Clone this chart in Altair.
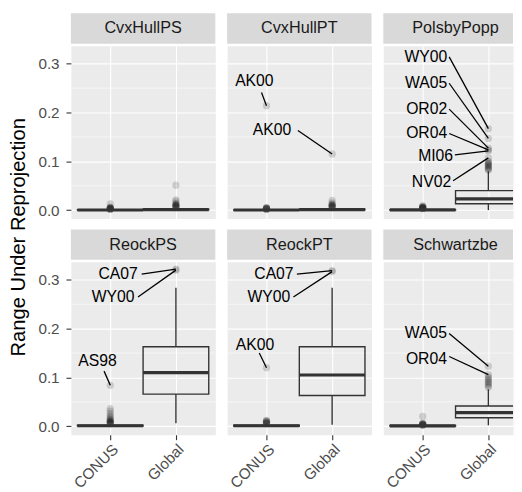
import altair as alt
import pandas as pd

FONT = "Liberation Sans"

panels = ["CvxHullPS", "CvxHullPT", "PolsbyPopp", "ReockPS", "ReockPT", "Schwartzbe"]
groups = ["CONUS", "Global"]
y_title = "Range Under Reprojection"
y_ticks = [0.0, 0.1, 0.2, 0.3]
y_minor = [0.05, 0.15, 0.25]

# box statistics, one entry per (panel, group)
box_panel = ["CvxHullPS", "CvxHullPS", "CvxHullPT", "CvxHullPT", "PolsbyPopp", "PolsbyPopp",
             "ReockPS", "ReockPS", "ReockPT", "ReockPT", "Schwartzbe", "Schwartzbe"]
box_group = ["CONUS", "Global"] * 6
box_lo = [0.0, 0.0, 0.0, 0.0, 0.0, 0.0, 0.0, 0.006, 0.0, 0.003, 0.0, 0.002]
box_q1 = [0.0, 0.0005, 0.0, 0.0005, 0.0, 0.013, 0.0005, 0.066, 0.0005, 0.063, 0.0003, 0.0175]
box_med = [0.0003, 0.001, 0.0002, 0.001, 0.0005, 0.023, 0.001, 0.110, 0.001, 0.105, 0.0008, 0.028]
box_q3 = [0.0008, 0.002, 0.0005, 0.002, 0.001, 0.040, 0.002, 0.163, 0.002, 0.163, 0.0015, 0.0416]
box_hi = [0.002, 0.004, 0.001, 0.004, 0.002, 0.080, 0.004, 0.284, 0.004, 0.284, 0.003, 0.076]

# outlying points per (panel, group)
out_values = {
    ("CvxHullPS", "CONUS"): [0.0015, 0.002, 0.0025, 0.003, 0.0035, 0.004, 0.0045, 0.005, 0.006, 0.013],
    ("CvxHullPS", "Global"): [0.005, 0.006, 0.007, 0.008, 0.009, 0.010, 0.011, 0.012, 0.014, 0.018, 0.021, 0.051],
    ("CvxHullPT", "CONUS"): [0.0015, 0.002, 0.0025, 0.003, 0.0035, 0.004, 0.0045, 0.005, 0.214],
    ("CvxHullPT", "Global"): [0.005, 0.006, 0.007, 0.008, 0.009, 0.010, 0.011, 0.012, 0.015, 0.020, 0.115],
    ("PolsbyPopp", "CONUS"): [0.003, 0.0035, 0.004, 0.0045, 0.005, 0.0055, 0.006, 0.0065, 0.007, 0.009],
    ("PolsbyPopp", "Global"): [0.082, 0.084, 0.086, 0.088, 0.090, 0.092, 0.094, 0.096, 0.098, 0.100,
                               0.107, 0.1215, 0.1236, 0.127, 0.147, 0.167],
    ("ReockPS", "CONUS"): [0.005, 0.006, 0.007, 0.008, 0.009, 0.010, 0.011, 0.012, 0.014, 0.016,
                           0.019, 0.022, 0.026, 0.031, 0.036, 0.084],
    ("ReockPS", "Global"): [0.320, 0.322],
    ("ReockPT", "CONUS"): [0.005, 0.006, 0.007, 0.008, 0.009, 0.010, 0.011, 0.012, 0.120],
    ("ReockPT", "Global"): [0.317, 0.319],
    ("Schwartzbe", "CONUS"): [0.002, 0.0025, 0.003, 0.0035, 0.004, 0.0045, 0.005, 0.0055, 0.006, 0.020],
    ("Schwartzbe", "Global"): [0.080, 0.083, 0.086, 0.089, 0.092, 0.095, 0.098, 0.101, 0.106, 0.123],
}

# repelled labels: text position, leader start, target point
lab_panel = ["CvxHullPT", "CvxHullPT",
             "PolsbyPopp", "PolsbyPopp", "PolsbyPopp", "PolsbyPopp", "PolsbyPopp", "PolsbyPopp",
             "ReockPS", "ReockPS", "ReockPS",
             "ReockPT", "ReockPT", "ReockPT",
             "Schwartzbe", "Schwartzbe"]
lab_text = ["AK00", "AK00",
            "WY00", "WA05", "OR02", "OR04", "MI06", "NV02",
            "CA07", "WY00", "AS98",
            "CA07", "WY00", "AK00",
            "WA05", "OR04"]
lab_group = ["CONUS", "Global",
             "Global", "Global", "Global", "Global", "Global", "Global",
             "Global", "Global", "CONUS",
             "Global", "Global", "CONUS",
             "Global", "Global"]
lab_value = [0.214, 0.115,
             0.167, 0.147, 0.127, 0.1236, 0.1215, 0.107,
             0.322, 0.320, 0.084,
             0.319, 0.317, 0.120,
             0.123, 0.106]
lab_tx = [0.815, 1.083,
          1.373, 1.373, 1.373, 1.373, 1.463, 1.433,
          1.418, 1.369, 0.804,
          1.413, 1.363, 0.824,
          1.369, 1.369]
lab_ty = [0.264, 0.1635,
          0.314, 0.260, 0.207, 0.157, 0.110, 0.057,
          0.312, 0.264, 0.133,
          0.312, 0.264, 0.167,
          0.190, 0.1386]
lab_align = ["center", "center",
             "right", "right", "right", "right", "right", "right",
             "right", "right", "center",
             "right", "right", "center",
             "right", "right"]
lab_sx = [0.924, 1.478,
          1.403, 1.403, 1.403, 1.403, 1.49, 1.463,
          1.478, 1.422, 0.905,
          1.463, 1.41, 0.89,
          1.403, 1.403]
lab_sy = [0.241, 0.163,
          0.314, 0.260, 0.207, 0.157, 0.113, 0.060,
          0.312, 0.265, 0.113,
          0.312, 0.265, 0.150,
          0.190, 0.143]

box_df = pd.DataFrame({"panel": box_panel, "group": box_group, "lo": box_lo, "q1": box_q1,
                       "med": box_med, "q3": box_q3, "hi": box_hi})
out_rows = [(p, g, v) for (p, g), vals in out_values.items() for v in vals]
out_df = pd.DataFrame(out_rows, columns=["panel", "group", "value"])
lab_df = pd.DataFrame({"panel": lab_panel, "text": lab_text, "group": lab_group, "value": lab_value,
                       "tx": lab_tx, "ty": lab_ty, "align": lab_align, "sx": lab_sx, "sy": lab_sy})

POS = "datum.group == 'CONUS' ? 1 : 2"
DARK = "#333333"
STRIP_H = 31
PLOT_H = 176
UNIT_W = 147
LAST_W = 132
TICK_FS = 15.5


def panel(name, col, row):
    width = UNIT_W if col < 2 else LAST_W
    xmax = 0.4 + 2.2 * width / UNIT_W
    xs = alt.Scale(domain=[0.4, xmax], nice=False, zero=False)
    ys = alt.Scale(domain=[-0.0174, 0.337], nice=False, zero=False)
    if row == 1:
        xax = alt.Axis(values=[1, 2], labelExpr="datum.value == 1 ? 'CONUS' : 'Global'",
                       labelAngle=315, labelAlign="right", labelBaseline="top",
                       labelFontSize=TICK_FS, labelColor="#4D4D4D", labelFont=FONT, labelPadding=2,
                       ticks=True, tickSize=5, tickColor=DARK, tickWidth=1.1,
                       domain=False, grid=True, gridColor="white", gridWidth=1.1, title=None)
    else:
        xax = alt.Axis(values=[1, 2], labels=False, ticks=False, domain=False,
                       grid=True, gridColor="white", gridWidth=1.1, title=None)
    if col == 0:
        yax = alt.Axis(values=y_ticks, format=".1f", labelFontSize=TICK_FS, labelColor="#4D4D4D",
                       labelFont=FONT, labelPadding=7, ticks=True, tickSize=5, tickColor=DARK,
                       tickWidth=1.1, domain=False, grid=True, gridColor="white", gridWidth=1.1,
                       title=None)
    else:
        yax = alt.Axis(values=y_ticks, labels=False, ticks=False, domain=False,
                       grid=True, gridColor="white", gridWidth=1.1, title=None)

    bx = alt.Chart(box_df).transform_filter(alt.datum.panel == name).transform_calculate(
        pos=POS).transform_calculate(left="datum.pos - 0.5", right="datum.pos + 0.5")

    minor = alt.Chart(pd.DataFrame({"m": y_minor})).mark_rule(
        color="white", strokeWidth=0.55).encode(
        y=alt.Y("m:Q", scale=ys, axis=yax))

    xgrid = alt.Chart(pd.DataFrame({"g": [1, 2]})).mark_rule(opacity=0).encode(
        x=alt.X("g:Q", scale=xs, axis=xax))

    pts = alt.Chart(out_df).transform_filter(alt.datum.panel == name).transform_calculate(
        pos=POS).mark_circle(size=55, color="black", opacity=0.15, clip=True).encode(
        x=alt.X("pos:Q", scale=xs, axis=xax), y=alt.Y("value:Q", scale=ys, axis=yax))

    rect = bx.mark_rect(fill="white", fillOpacity=0, stroke=DARK, strokeWidth=1.4, clip=True).encode(
        x=alt.X("left:Q", scale=xs, axis=xax), x2="right:Q",
        y=alt.Y("q1:Q", scale=ys, axis=yax), y2="q3:Q")
    w_lo = bx.mark_rule(color=DARK, strokeWidth=1.4).encode(
        x=alt.X("pos:Q", scale=xs, axis=xax), y=alt.Y("lo:Q", scale=ys, axis=yax), y2="q1:Q")
    w_hi = bx.mark_rule(color=DARK, strokeWidth=1.4).encode(
        x=alt.X("pos:Q", scale=xs, axis=xax), y=alt.Y("q3:Q", scale=ys, axis=yax), y2="hi:Q")
    med = bx.mark_rule(color=DARK, strokeWidth=3.2, clip=True).encode(
        x=alt.X("left:Q", scale=xs, axis=xax), x2="right:Q",
        y=alt.Y("med:Q", scale=ys, axis=yax))

    lb = alt.Chart(lab_df).transform_filter(alt.datum.panel == name).transform_calculate(pos=POS)
    seg = lb.mark_rule(color="black", strokeWidth=1.3).encode(
        x=alt.X("sx:Q", scale=xs, axis=xax), x2="pos:Q",
        y=alt.Y("sy:Q", scale=ys, axis=yax), y2="value:Q")
    txt_r = lb.transform_filter(alt.datum.align == "right").mark_text(
        align="right", baseline="middle", fontSize=16, font=FONT, color="black").encode(
        x=alt.X("tx:Q", scale=xs, axis=xax), y=alt.Y("ty:Q", scale=ys, axis=yax), text="text:N")
    txt_c = lb.transform_filter(alt.datum.align == "center").mark_text(
        align="center", baseline="middle", fontSize=16, font=FONT, color="black").encode(
        x=alt.X("tx:Q", scale=xs, axis=xax), y=alt.Y("ty:Q", scale=ys, axis=yax), text="text:N")

    plot = alt.layer(minor, xgrid, pts, rect, w_lo, w_hi, med, seg, txt_r, txt_c).properties(
        width=width, height=PLOT_H,
        view=alt.ViewBackground(fill="#EBEBEB", stroke="transparent"))

    sdf = pd.DataFrame({"panel": [name]})
    strip_bg = alt.Chart(sdf).mark_rect(color="#D9D9D9").encode(
        x=alt.value(0), x2=alt.value(width), y=alt.value(0), y2=alt.value(STRIP_H))
    strip_tx = alt.Chart(sdf).mark_text(fontSize=16.5, font=FONT, color="#1A1A1A",
                                         baseline="middle", align="center").encode(
        text="panel:N", x=alt.value(UNIT_W / 2), y=alt.value(STRIP_H / 2))
    strip = alt.layer(strip_bg, strip_tx).properties(
        width=width, height=STRIP_H, view=alt.ViewBackground(fill="transparent", stroke="transparent"))
    return alt.vconcat(strip, plot, spacing=0)


row0 = alt.hconcat(*[panel(panels[i], i, 0) for i in range(3)], spacing=10)
row1 = alt.hconcat(*[panel(panels[3 + i], i, 1) for i in range(3)], spacing=10)
grid = alt.vconcat(row0, row1, spacing=9)

title_chart = alt.Chart(pd.DataFrame({"t": [y_title]})).mark_text(
    angle=270, fontSize=20.5, font=FONT, color="black", baseline="middle", align="center").encode(
    text="t:N", x=alt.value(10.5), y=alt.value(228)).properties(
    width=20, height=420, view=alt.ViewBackground(fill="transparent", stroke="transparent"))

chart = alt.hconcat(title_chart, grid, spacing=6).properties(
    padding={"left": 0, "top": 0, "right": 0, "bottom": 0},
    autosize=alt.AutoSizeParams(type="pad"),
    background="white").configure(padding=0).configure_view(stroke="transparent")

chart.save("out.html", embed_options={"renderer": "svg", "actions": False})
